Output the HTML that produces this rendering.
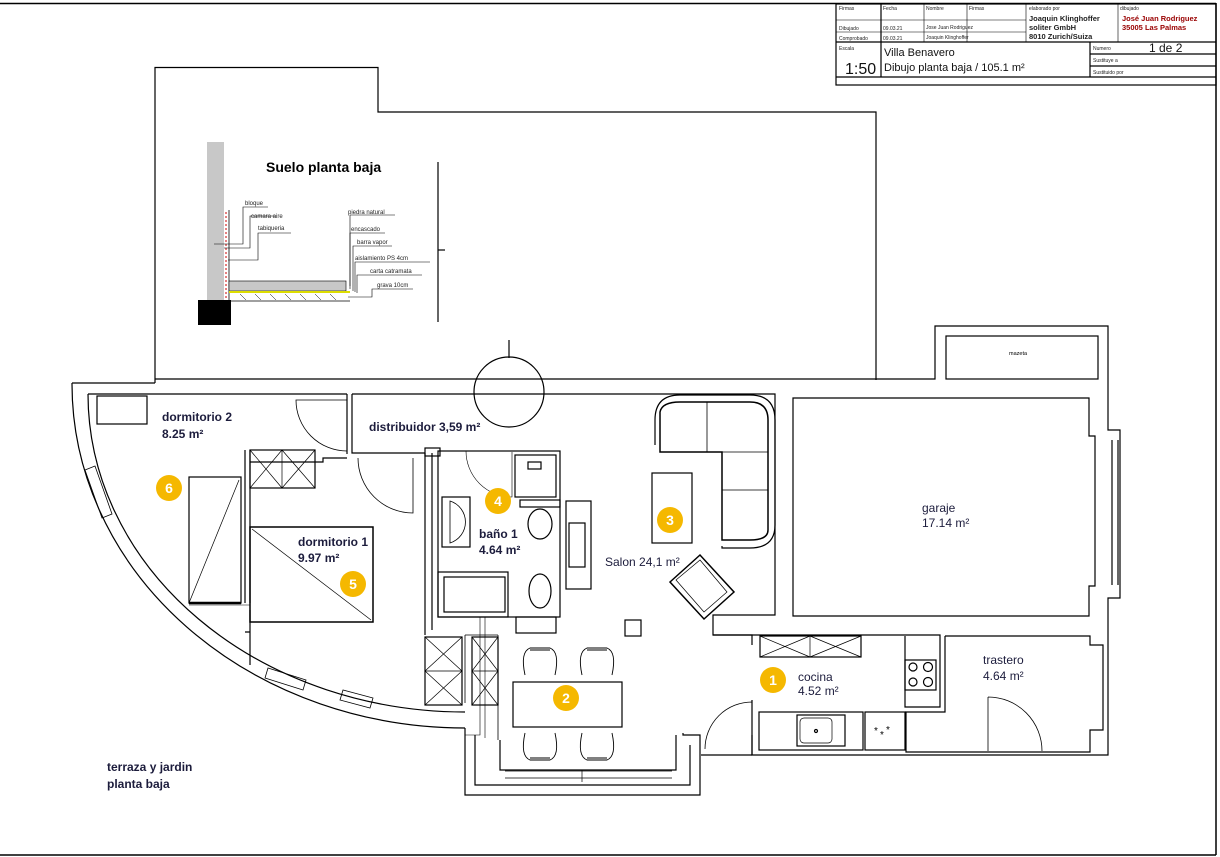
<!DOCTYPE html>
<html><head><meta charset="utf-8"><style>
html,body{margin:0;padding:0;background:#fff}
svg{display:block}
text{font-family:"Liberation Sans",sans-serif}
.l{font-size:12px;font-weight:bold;fill:#1c1c3c}
.t{font-size:5px;fill:#222}
</style></head><body>
<svg width="1220" height="857" viewBox="0 0 1220 857" xmlns="http://www.w3.org/2000/svg">
<g fill="none" stroke="#000" stroke-width="1.2">
<line x1="0" y1="3.5" x2="1216" y2="3.5" stroke-width="1.5"/>
<line x1="1216" y1="3" x2="1216" y2="855" stroke-width="1.5"/>
<line x1="0" y1="855" x2="1216" y2="855" stroke-width="1.5"/>
<rect x="836" y="4" width="380" height="81"/>
<line x1="836" y1="42" x2="1216" y2="42"/>
<line x1="836" y1="20" x2="1026" y2="20" stroke-width="0.6"/>
<line x1="836" y1="32" x2="1026" y2="32" stroke-width="0.6"/>
<line x1="881" y1="4" x2="881" y2="77"/>
<line x1="924" y1="4" x2="924" y2="42" stroke-width="0.6"/>
<line x1="967" y1="4" x2="967" y2="42" stroke-width="0.6"/>
<line x1="1026" y1="4" x2="1026" y2="42" stroke-width="0.6"/>
<line x1="1118" y1="4" x2="1118" y2="42" stroke-width="0.6"/>
<line x1="836" y1="77" x2="1216" y2="77"/>
<line x1="1090" y1="42" x2="1090" y2="77"/>
<line x1="1090" y1="54" x2="1216" y2="54"/>
<line x1="1090" y1="66" x2="1216" y2="66"/>
<path d="M155,383 V67.5 H378 V112 H876 V380"/>
<line x1="438" y1="162" x2="438" y2="322"/>
<line x1="438" y1="250" x2="445" y2="250"/>
<line x1="509" y1="340" x2="509" y2="358"/>
<rect x="207" y="142" width="17" height="158" fill="#c8c8c8" stroke="none"/>
<rect x="198" y="300" width="33" height="25" fill="#000" stroke="none"/>
<line x1="226" y1="212" x2="226" y2="300" stroke="#c00" stroke-dasharray="2,2" stroke-width="1"/>
<line x1="229" y1="210" x2="229" y2="300" stroke-width="0.8"/>
<rect x="229" y="281" width="117" height="10" fill="#c8c8c8" stroke-width="0.6"/>
<line x1="229" y1="292" x2="350" y2="292" stroke="#dd0" stroke-width="2"/>
<line x1="229" y1="301" x2="350" y2="301" stroke-width="0.8"/>
<path d="M240,294 l6,6 M255,294 l6,6 M270,294 l6,6 M285,294 l6,6 M300,294 l6,6 M315,294 l6,6 M330,294 l6,6" stroke-width="0.5"/>
<g stroke-width="0.6">
<path d="M214,244 H243 V207 H268"/>
<path d="M224,248 H250 V216 H276"/>
<path d="M228,260 H258 V233 H291"/>
<path d="M350,286 V215 H395"/>
<path d="M350,289 V233 H385"/>
<path d="M353,291 V246 H392"/>
<path d="M355,292 V262 H430"/>
<path d="M357,293 V275 H422"/>
<path d="M348,297 H372 V289 H413"/>
</g>
<path d="M72,383 H155 M155,379 H935 V326 H1108 V430 H1120 V598 H1108 V755 H752 V735"/>
<path d="M72,383 A393 344 0 0 0 465,728"/>
<path d="M88,394 A377 318 0 0 0 465,712"/>
<path d="M88,394 H347 M352,394 H775 V615 H713 V635 H752 V645"/>
<rect x="946" y="336" width="152" height="43"/>
<path d="M347,394 V454 M352,394 V453 H425"/>
<path d="M425,453 V635 M432,453 V630"/>
<rect x="425" y="448" width="15" height="8"/>
<path d="M347,400 H296 A51,51 0 0 0 347,451" stroke-width="0.8"/>
<path d="M358,458 A55,55 0 0 0 413,513 V458" stroke-width="0.8"/>
<path d="M245,450 V603 M250,450 V603 M250,462 H323 V458 H347 M245,632 H250 M250,610 V665"/>
<rect x="250" y="450" width="65" height="38"/>
<path d="M250,450 L282,488 M282,450 L250,488 M282,450 V488 M282,450 L315,488 M315,450 L282,488" stroke-width="0.7"/>
<rect x="189" y="477" width="52" height="126"/>
<path d="M189,603 L239,480" stroke-width="0.7"/>
<line x1="189" y1="603" x2="241" y2="603" stroke-width="2.5"/>
<rect x="250" y="527" width="123" height="95" stroke-width="1.5"/>
<path d="M252,529 L371,620" stroke-width="0.7"/>
<line x1="189" y1="605" x2="250" y2="605" stroke-width="0.6"/>
<path d="M85,470 l10,-4 l17,48 l-10,4 z" stroke-width="0.8"/>
<path d="M265,678 l3,-10 l38,12 l-3,10 z M340,700 l3,-10 l30,8 l-3,10z" stroke-width="0.8"/>
<rect x="97" y="396" width="50" height="28"/>
<rect x="438" y="451" width="122" height="166"/>
<rect x="442" y="497" width="28" height="50"/>
<path d="M450,501 A22,22 0 0 1 450,543 Z" stroke-width="0.8"/>
<rect x="515" y="455" width="41" height="42"/>
<rect x="528" y="462" width="13" height="7"/>
<rect x="520" y="500" width="40" height="7"/>
<ellipse cx="540" cy="524" rx="12" ry="15"/>
<ellipse cx="540" cy="591" rx="11" ry="17"/>
<rect x="438" y="572" width="70" height="45"/>
<rect x="444" y="577" width="61" height="35"/>
<rect x="516" y="617" width="40" height="16"/>
<path d="M466,451 A46,46 0 0 0 512,497 V452" stroke-width="0.6"/>
<rect x="566" y="501" width="25" height="88"/>
<rect x="569" y="523" width="16" height="44"/>
<rect x="425" y="637" width="37" height="68"/>
<path d="M425,637 L462,671 M462,637 L425,671 M425,671 L462,705 M462,671 L425,705 M425,671 H462" stroke-width="0.7"/>
<rect x="472" y="637" width="26" height="68"/>
<path d="M472,637 L498,671 M498,637 L472,671 M472,671 L498,705 M498,671 L472,705 M472,671 H498" stroke-width="0.7"/>
<path d="M465,635 V703 M465,635 H498 M498,635 V740" stroke-width="0.8"/>
<path d="M480,617 V735 H465 M485,617 V738" stroke-width="0.6"/>
<path d="M465,728 V795 H700 V735 H683 V733"/>
<path d="M475,735 V785 H690 V745"/>
<path d="M500,740 V770 H676 V735"/>
<path d="M505,771 H672 M505,778 H672 M582,770 V782" stroke-width="0.7"/>
<rect x="513" y="682" width="109" height="45"/>
<g stroke-width="0.9">
<path d="M525,675 Q520,652 530,648 H550 Q560,652 555,675 M530,650 H550"/>
<path d="M582,675 Q577,652 587,648 H607 Q617,652 612,675 M587,650 H607"/>
<path d="M525,733 Q520,756 530,760 H550 Q560,756 555,733 M530,758 H550"/>
<path d="M582,733 Q577,756 587,760 H607 Q617,756 612,733 M587,758 H607"/>
</g>
<rect x="625" y="620" width="16" height="16"/>
<path d="M655,445 V420 Q655,395 680,395 H750 Q775,395 775,420 V525 Q775,548 750,548 H722 V546" />
<path d="M660,452 V412 Q662,402 680,402 H750 Q768,402 768,420 V530 Q768,540 750,540 H722 V452 Z" stroke-width="1.5"/>
<path d="M722,452 V540 M722,490 H768 M722,452 H768 M707,402 V452" stroke-width="0.8"/>
<rect x="652" y="473" width="40" height="70"/>
<path d="M670,582 L700,555 L734,592 L704,619 Z" stroke-width="1.5"/>
<path d="M676,580 L700,560 L727,592 L704,612 Z" stroke-width="0.7"/>
<path d="M793,398 H1089 V436 H1095 V586 H1089 V616 H793 Z"/>
<path d="M1112,440 V585 M1118,440 V585"/>
<path d="M713,635 H940 V656 M905,636 V707 H940 V640 M945,636 V712 H905 M945,636 H1090 V645 H1103 V730 H1090 V752 H906 V712"/>
<rect x="760" y="636" width="101" height="21"/>
<path d="M760,636 L810,657 M810,636 L760,657 M810,636 V657 M810,636 L861,657 M861,636 L810,657" stroke-width="0.7"/>
<rect x="905" y="660" width="31" height="30"/>
<circle cx="913" cy="667" r="4"/><circle cx="928" cy="667" r="4.5"/><circle cx="913" cy="682" r="4"/><circle cx="928" cy="682" r="4.5"/>
<rect x="759" y="712" width="104" height="38"/>
<rect x="797" y="715" width="48" height="31"/>
<rect x="800" y="718" width="32" height="25" rx="4" stroke-width="0.7"/>
<circle cx="816" cy="731" r="1.5"/>
<rect x="865" y="712" width="40" height="38"/>
<path d="M752,700 V755"/>
<path d="M752,702 A47,47 0 0 0 705,749 M752,702 V749" stroke-width="0.8"/>
<path d="M988,697 A54,54 0 0 1 1042,751 M988,697 V751" stroke-width="0.8"/>
<line x1="701" y1="755" x2="752" y2="755"/>
</g>
<text x="874" y="734" style="font-size:10px">*</text><text x="880" y="738" style="font-size:10px">*</text><text x="886" y="733" style="font-size:10px">*</text>
<circle cx="509" cy="392" r="35" fill="none" stroke="#000" stroke-width="1.2"/>
<g class="t">
<text x="839" y="10">Firmas</text><text x="883" y="10">Fecha</text><text x="926" y="10">Nombre</text><text x="969" y="10">Firmas</text>
<text x="1029" y="10">elaborado por</text><text x="1120" y="10">dibujado</text>
<text x="839" y="30">Dibujado</text><text x="883" y="30">09.03.21</text><text x="926" y="29">Jose Juan Rodriguez</text>
<text x="839" y="40">Comprobado</text><text x="883" y="40">09.03.21</text><text x="926" y="39">Joaquin Klinghoffer</text>
<text x="839" y="50">Escala</text><text x="1093" y="50">Numero</text><text x="1093" y="62">Sustituye a</text><text x="1093" y="74">Sustituido por</text>
</g>
<g style="font-size:7.5px;font-weight:bold">
<text x="1029" y="21" fill="#222">Joaquin Klinghoffer</text>
<text x="1029" y="30" fill="#222">soliter GmbH</text>
<text x="1029" y="39" fill="#222">8010 Zurich/Suiza</text>
<text x="1122" y="21" fill="#900">José Juan Rodriguez</text>
<text x="1122" y="30" fill="#900">35005 Las Palmas</text>
</g>
<text x="884" y="56" style="font-size:11px" fill="#111">Villa Benavero</text>
<text x="884" y="71" style="font-size:11px" fill="#111">Dibujo planta baja / 105.1  m²</text>
<text x="845" y="74" style="font-size:16px" fill="#111">1:50</text>
<text x="1149" y="52" style="font-size:12px" fill="#111">1 de 2</text>
<text x="266" y="172" style="font-size:14px;font-weight:bold">Suelo planta baja</text>
<g style="font-size:6px" fill="#222">
<text x="245" y="205">bloque</text><text x="251" y="218">camara aire</text><text x="258" y="230">tabiqueria</text>
<text x="348" y="214">piedra natural</text><text x="351" y="231">encascado</text><text x="357" y="244">barra vapor</text>
<text x="355" y="260">aislamiento PS 4cm</text><text x="370" y="273">carta catramata</text><text x="377" y="287">grava 10cm</text>
</g>
<text x="1009" y="355" style="font-size:5.5px">mazeta</text>
<g class="l">
<text x="162" y="421">dormitorio 2</text><text x="162" y="438">8.25 m²</text>
<text x="369" y="431">distribuidor 3,59 m²</text>
<text x="298" y="546">dormitorio 1</text><text x="298" y="562">9.97 m²</text>
<text x="479" y="538">baño 1</text><text x="479" y="554">4.64 m²</text>
<text x="605" y="566" style="font-weight:normal">Salon 24,1 m²</text>
<text x="922" y="512" style="font-weight:normal">garaje</text><text x="922" y="527" style="font-weight:normal">17.14 m²</text>
<text x="798" y="681" style="font-weight:normal">cocina</text><text x="798" y="695" style="font-weight:normal">4.52 m²</text>
<text x="983" y="664" style="font-weight:normal">trastero</text><text x="983" y="680" style="font-weight:normal">4.64 m²</text>
<text x="107" y="771">terraza y jardin</text><text x="107" y="788">planta baja</text>
</g>
<g font-size="14" font-weight="bold" fill="#fff" text-anchor="middle">
<circle cx="773" cy="680" r="13" fill="#f5b800"/><text x="773" y="685">1</text>
<circle cx="566" cy="698" r="13" fill="#f5b800"/><text x="566" y="703">2</text>
<circle cx="670" cy="520" r="13" fill="#f5b800"/><text x="670" y="525">3</text>
<circle cx="498" cy="501" r="13" fill="#f5b800"/><text x="498" y="506">4</text>
<circle cx="353" cy="584" r="13" fill="#f5b800"/><text x="353" y="589">5</text>
<circle cx="169" cy="488" r="13" fill="#f5b800"/><text x="169" y="493">6</text>
</g>
</svg>
</body></html>
